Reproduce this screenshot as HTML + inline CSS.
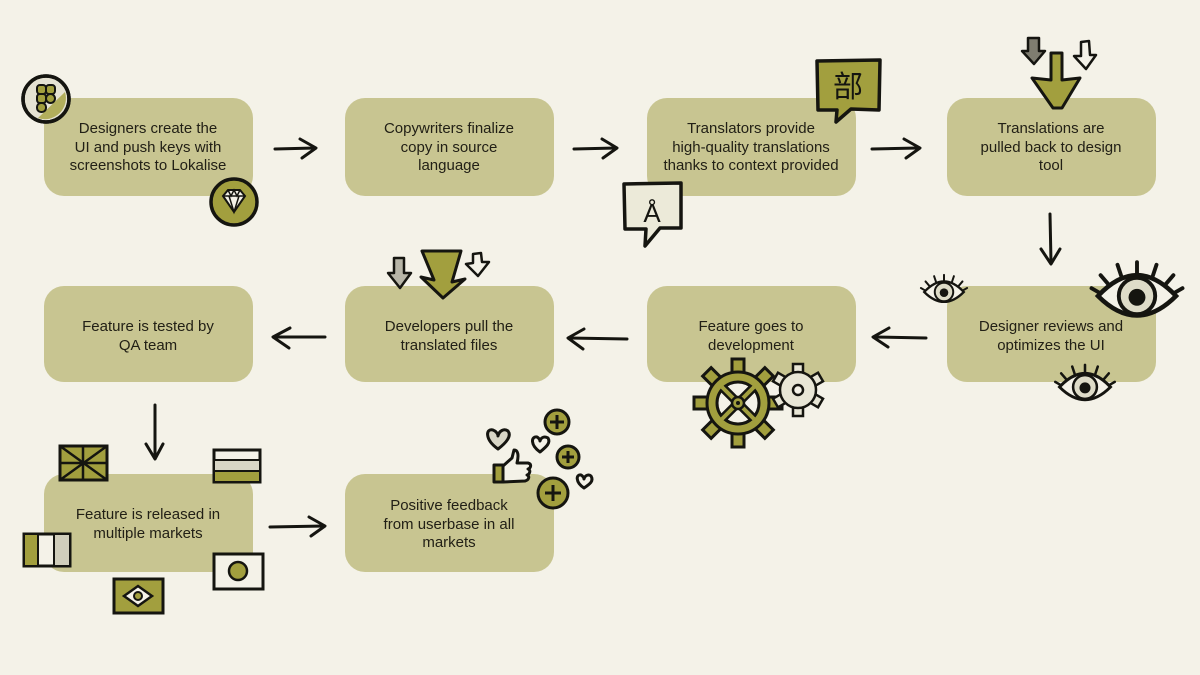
<!DOCTYPE html>
<html><head><meta charset="utf-8">
<style>
html,body{margin:0;padding:0;background:#f4f2e8;}
svg{display:block;}
text{font-family:"Liberation Sans",sans-serif;font-size:15px;fill:#222016;text-anchor:middle;}
</style></head>
<body>
<svg width="1200" height="675" viewBox="0 0 1200 675" xmlns="http://www.w3.org/2000/svg">
<rect width="1200" height="675" fill="#f4f2e8"/>
<defs>
<g id="eye">
 <path d="M-30,0 Q0,-32 30,0 Q0,30 -30,0 Z" fill="#f4f2e8" stroke="#151510" stroke-width="3.5"/>
 <circle cx="0" cy="0" r="14" fill="#dedcc8" stroke="#151510" stroke-width="3"/>
 <circle cx="0" cy="1" r="6.5" fill="#151510"/>
 <g stroke="#151510" stroke-width="3" stroke-linecap="round">
  <line x1="-22" y1="-9" x2="-28" y2="-16"/><line x1="-12" y1="-15" x2="-15" y2="-24"/>
  <line x1="0" y1="-17" x2="0" y2="-26"/><line x1="12" y1="-15" x2="15" y2="-24"/>
  <line x1="22" y1="-9" x2="28" y2="-16"/><line x1="28" y1="-2" x2="35" y2="-6"/>
  <line x1="-28" y1="-2" x2="-35" y2="-6"/>
 </g>
</g>
</defs>

<!-- Boxes -->
<g fill="#c8c591">
<rect x="44" y="98" width="209" height="98" rx="20"/>
<rect x="345" y="98" width="209" height="98" rx="20"/>
<rect x="647" y="98" width="209" height="98" rx="20"/>
<rect x="947" y="98" width="209" height="98" rx="20"/>
<rect x="44" y="286" width="209" height="96" rx="20"/>
<rect x="345" y="286" width="209" height="96" rx="20"/>
<rect x="647" y="286" width="209" height="96" rx="20"/>
<rect x="947" y="286" width="209" height="96" rx="20"/>
<rect x="44" y="474" width="209" height="98" rx="20"/>
<rect x="345" y="474" width="209" height="98" rx="20"/>
</g>

<!-- Text -->
<text x="148" y="133">Designers create the</text>
<text x="148" y="152">UI and push keys with</text>
<text x="148" y="170">screenshots to Lokalise</text>

<text x="449" y="133">Copywriters finalize</text>
<text x="449" y="152">copy in source</text>
<text x="449" y="170">language</text>

<text x="751" y="133">Translators provide</text>
<text x="751" y="152">high-quality translations</text>
<text x="751" y="170">thanks to context provided</text>

<text x="1051" y="133">Translations are</text>
<text x="1051" y="152">pulled back to design</text>
<text x="1051" y="170">tool</text>

<text x="148" y="331">Feature is tested by</text>
<text x="148" y="350">QA team</text>

<text x="449" y="331">Developers pull the</text>
<text x="449" y="350">translated files</text>

<text x="751" y="331">Feature goes to</text>
<text x="751" y="350">development</text>

<text x="1051" y="331">Designer reviews and</text>
<text x="1051" y="350">optimizes the UI</text>

<text x="148" y="519">Feature is released in</text>
<text x="148" y="538">multiple markets</text>

<text x="449" y="510">Positive feedback</text>
<text x="449" y="529">from userbase in all</text>
<text x="449" y="547">markets</text>

<!-- Connector arrows -->
<g fill="none" stroke="#151510" stroke-width="3" stroke-linecap="round" stroke-linejoin="round">
 <path d="M275,149 L315,148"/><path d="M300,139 L316,148 L302,158"/>
 <path d="M574,149 L616,148"/><path d="M602,139 L617,148 L603,158"/>
 <path d="M872,149 L918,148"/><path d="M904,139 L920,148 L906,158"/>
 <path d="M1050,214 L1051,262"/><path d="M1041,249 L1051,264 L1060,249"/>
 <path d="M926,338 L874,337"/><path d="M889,328 L873,337 L888,347"/>
 <path d="M627,339 L569,338"/><path d="M584,329 L568,338 L583,349"/>
 <path d="M325,337 L274,337"/><path d="M290,328 L273,337 L289,348"/>
 <path d="M155,405 L155,457"/><path d="M146,444 L155,459 L163,444"/>
 <path d="M270,527 L324,526"/><path d="M309,517 L325,526 L311,536"/>
</g>

<!-- Figma circle -->
<circle cx="46" cy="99" r="23" fill="#e6e3d3" stroke="#151510" stroke-width="3.5"/>
<path d="M65,92 A21,21 0 0 1 38,118 Z" fill="#b2ae5c"/>
<circle cx="46" cy="99" r="23" fill="none" stroke="#151510" stroke-width="3.5"/>
<g fill="#a29f3e" stroke="#151510" stroke-width="2">
 <rect x="37" y="85" width="9" height="9" rx="3"/><rect x="46" y="85" width="9" height="9" rx="3"/>
 <rect x="37" y="94" width="9" height="9" rx="3"/><circle cx="50.5" cy="98.5" r="4.5"/>
 <rect x="37" y="103" width="9" height="9" rx="4"/>
</g>

<!-- Sketch circle -->
<circle cx="234" cy="202" r="23" fill="#a29f3e" stroke="#151510" stroke-width="3.5"/>
<path d="M223,196 L228,190 L240,190 L245,196 L234,212 Z" fill="#f4f2e8" stroke="#151510" stroke-width="2"/>
<path d="M223,196 L245,196 M229,196 L234,212 L239,196 M228,190 L231,196 L234,190 L237,196 L240,190" fill="none" stroke="#151510" stroke-width="1.5"/>

<!-- Kanji bubble -->
<path d="M817,61 L880,60 L879,110 L851,109 L836,122 L837,110 L818,110 Z" fill="#a29f3e" stroke="#151510" stroke-width="3.5" stroke-linejoin="round"/>
<text x="848" y="97" style="font-family:'Noto Sans CJK SC','WenQuanYi Zen Hei',sans-serif;font-size:30px;fill:#151510;">部</text>

<!-- A bubble -->
<path d="M624,184 L681,183 L681,228 L660,228 L645,246 L646,229 L625,229 Z" fill="#ecead9" stroke="#151510" stroke-width="3.5" stroke-linejoin="round"/>
<text x="652" y="222" style="font-size:26px;fill:#151510;">Å</text>

<!-- Pull back arrows -->
<path d="M1028,38 L1039,38 L1039,51 L1045,51 L1034,64 L1022,51 L1028,51 Z" fill="#7f7d70" stroke="#151510" stroke-width="2.5" stroke-linejoin="round"/>
<path d="M1081,42 L1089,41 L1090,55 L1096,55 L1086,69 L1074,56 L1081,56 Z" fill="#f4f2e8" stroke="#151510" stroke-width="2.5" stroke-linejoin="round"/>
<path d="M1051,53 L1062,53 L1062,80 L1080,78 L1062,108 L1053,108 L1032,78 L1051,80 Z" fill="#a29f3e" stroke="#151510" stroke-width="3" stroke-linejoin="round"/>

<!-- Eyes -->
<g transform="translate(944,292) scale(0.66)"><use href="#eye"/></g>
<g transform="translate(1137,296) scale(1.3)"><use href="#eye"/></g>
<g transform="translate(1085,387) scale(0.85)"><use href="#eye"/></g>

<!-- Gears -->
<g transform="translate(738,403)">
 <g fill="#a29f3e" stroke="#151510" stroke-width="3">
  <rect x="-6" y="-44" width="12" height="14"/>
  <rect x="-6" y="-44" width="12" height="14" transform="rotate(45)"/>
  <rect x="-6" y="-44" width="12" height="14" transform="rotate(90)"/>
  <rect x="-6" y="-44" width="12" height="14" transform="rotate(135)"/>
  <rect x="-6" y="-44" width="12" height="14" transform="rotate(180)"/>
  <rect x="-6" y="-44" width="12" height="14" transform="rotate(225)"/>
  <rect x="-6" y="-44" width="12" height="14" transform="rotate(270)"/>
  <rect x="-6" y="-44" width="12" height="14" transform="rotate(315)"/>
 </g>
 <circle r="31" fill="#a29f3e" stroke="#151510" stroke-width="3"/>
 <circle r="21" fill="#f4f2e8" stroke="#151510" stroke-width="3"/>
 <g stroke="#151510" stroke-width="9"><line x1="-15" y1="-15" x2="15" y2="15"/><line x1="-15" y1="15" x2="15" y2="-15"/></g>
 <g stroke="#a29f3e" stroke-width="4"><line x1="-16" y1="-16" x2="16" y2="16"/><line x1="-16" y1="16" x2="16" y2="-16"/></g>
 <circle r="6" fill="#a29f3e" stroke="#151510" stroke-width="2.5"/>
 <circle r="2" fill="#151510"/>
</g>
<g transform="translate(798,390)">
 <g fill="#e8e6d6" stroke="#151510" stroke-width="2.5">
  <rect x="-5" y="-26" width="10" height="10"/>
  <rect x="-5" y="-26" width="10" height="10" transform="rotate(60)"/>
  <rect x="-5" y="-26" width="10" height="10" transform="rotate(120)"/>
  <rect x="-5" y="-26" width="10" height="10" transform="rotate(180)"/>
  <rect x="-5" y="-26" width="10" height="10" transform="rotate(240)"/>
  <rect x="-5" y="-26" width="10" height="10" transform="rotate(300)"/>
 </g>
 <circle r="18" fill="#e8e6d6" stroke="#151510" stroke-width="2.5"/>
 <circle r="5" fill="#f4f2e8" stroke="#151510" stroke-width="2.5"/>
</g>

<!-- Developer arrows -->
<path d="M394,258 L404,258 L404,273 L411,273 L400,288 L388,273 L394,273 Z" fill="#b8b6a8" stroke="#151510" stroke-width="2.5" stroke-linejoin="round"/>
<path d="M473,254 L481,253 L482,262 L489,262 L478,276 L466,264 L473,263 Z" fill="#f4f2e8" stroke="#151510" stroke-width="2.5" stroke-linejoin="round"/>
<path d="M422,251 L461,251 L452,282 L465,279 L443,298 L421,277 L434,280 Z" fill="#a29f3e" stroke="#151510" stroke-width="3" stroke-linejoin="round"/>

<!-- Flags -->
<g stroke="#151510" stroke-width="3">
 <rect x="60" y="446" width="47" height="34" fill="#a29f3e"/>
 <g stroke-width="2.5"><line x1="60" y1="446" x2="107" y2="480"/><line x1="107" y1="446" x2="60" y2="480"/><line x1="83" y1="446" x2="83" y2="480"/><line x1="60" y1="463" x2="107" y2="463"/></g>
 <rect x="214" y="450" width="46" height="32" fill="#f4f2e8"/>
 <rect x="214" y="460" width="46" height="11" fill="#d8d6c6" stroke-width="2"/>
 <rect x="214" y="471" width="46" height="11" fill="#a29f3e" stroke-width="2"/>
 <rect x="24" y="534" width="46" height="32" fill="#f4f2e8"/>
 <rect x="24" y="534" width="14" height="32" fill="#a29f3e" stroke-width="2"/>
 <rect x="54" y="534" width="16" height="32" fill="#d0cebb" stroke-width="2"/>
 <rect x="214" y="554" width="49" height="35" fill="#f4f2e8"/>
 <circle cx="238" cy="571" r="9" fill="#a29f3e" stroke-width="2.5"/>
 <rect x="114" y="579" width="49" height="34" fill="#a29f3e"/>
 <path d="M124,596 L138,586 L152,596 L138,606 Z" fill="#f4f2e8" stroke-width="2.5"/>
 <circle cx="138" cy="596" r="4" fill="#a29f3e" stroke-width="2"/>
</g>

<!-- Feedback icons -->
<g stroke="#151510" stroke-width="3" stroke-linejoin="round">
 <path d="M498,449 C484,439 486,428 493,430 C496,431 498,434 498,436 C499,431 504,428 508,431 C512,436 506,443 498,449 Z" fill="#d8d6c6"/>
 <path d="M540,452 C530,445 531,436 537,437 C539,438 540,440 540,441 C541,437 545,436 548,438 C551,443 546,447 540,452 Z" fill="#f4f2e8"/>
 <path d="M584,488 C575,482 576,474 581,475 C583,476 584,478 584,479 C585,475 589,474 591,476 C594,481 590,484 584,488 Z" fill="#f4f2e8"/>
 <rect x="494" y="465" width="9" height="17" fill="#a29f3e"/>
 <path d="M503,466 L512,458 L514,450 C518,450 519,455 517,463 L528,463 C532,464 531,468 528,469 C531,470 530,474 527,475 C530,476 529,480 525,481 L503,482 Z" fill="#f4f2e8"/>
 <circle cx="557" cy="422" r="12" fill="#a29f3e"/>
 <circle cx="568" cy="457" r="11" fill="#a29f3e"/>
 <circle cx="553" cy="493" r="15" fill="#a29f3e"/>
 <path d="M557,415 L557,429 M550,422 L564,422 M568,451 L568,463 M562,457 L574,457 M553,485 L553,501 M545,493 L561,493" fill="none"/>
</g>
</svg>
</body></html>
